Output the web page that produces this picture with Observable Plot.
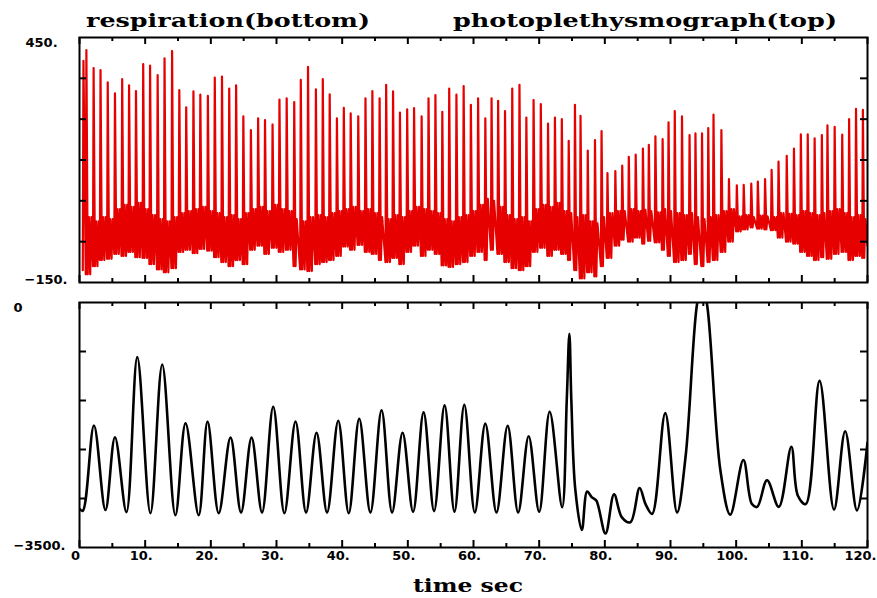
<!DOCTYPE html>
<html><head><meta charset="utf-8">
<script src="https://cdn.jsdelivr.net/npm/d3@7"></script>
<script src="https://cdn.jsdelivr.net/npm/@observablehq/plot@0.6"></script>
<style>
body{margin:0;background:#fff;}
#wrap{position:relative;width:877px;height:598px;overflow:hidden;background:#fff}
#top,#bot,#ttl{position:absolute;left:0}
#top{top:0}
#bot{top:290px}
#ttl{top:0;pointer-events:none}
#ttl text{font-family:"DejaVu Serif",serif;font-size:19px;font-weight:bold;fill:#000}
</style></head><body>
<div id="wrap">
  <div id="top"></div>
  <div id="bot"></div>
  <svg id="ttl" width="877" height="598">
    <text x="86" y="27" textLength="284" lengthAdjust="spacingAndGlyphs">respiration(bottom)</text>
    <text x="453" y="27" textLength="384" lengthAdjust="spacingAndGlyphs">photoplethysmograph(top)</text>
    <text x="413" y="592" textLength="110" lengthAdjust="spacingAndGlyphs">time sec</text>
  </svg>
</div>
<script>
// ---------- data: photoplethysmograph (top, red) ----------
const beatT = [0.6,1.05,2.15,3.2,4.3,5.4,6.5,7.55,8.6,9.7,
  10.75,11.9,12.95,14.1,15.2,16.25,17.35,18.4,19.55,20.6,
  21.7,22.8,23.85,24.95,26.1,27.2,28.25,29.4,30.45,31.55,
  32.7,33.7,34.8,36.0,37.05,38.1,39.2,40.25,41.3,42.45,
  43.55,44.6,45.7,46.7,47.75,48.8,49.9,50.95,52.1,53.15,
  54.2,55.25,56.3,57.4,58.5,59.6,60.7,61.8,62.75,63.75,
  64.8,65.9,67.0,68.05,69.15,70.25,71.35,72.4,73.45,74.5,
  75.45,76.3,77.4,78.5,79.5,80.4,81.6,82.65,83.65,84.7,
  85.8,86.7,87.7,88.8,89.7,90.65,91.75,92.9,93.8,94.8,
  95.75,96.55,97.75,98.9,100.1,101.15,102.3,103.3,104.4,105.4,
  106.45,107.7,108.8,109.85,110.9,111.95,113.05,113.9,115.0,116.15,
  117.2,118.25,119.3];
const beatPeak = [393,419,375,370,340,313,348,333,319,385,
  381,358,399,417,321,279,318,310,307,352,
  354,325,333,257,223,252,248,237,298,301,
  292,346,378,323,348,311,252,278,264,257,
  301,319,301,334,318,266,274,277,257,301,
  309,268,325,310,331,285,301,252,301,295,
  270,325,334,254,297,287,239,254,250,197,
  285,258,173,199,221,118,123,136,158,163,
  178,187,208,201,242,270,257,211,215,215,
  228,261,223,103,88,89,92,97,103,126,
  146,160,178,213,213,203,211,235,231,212,
  250,275,273];
const beatFoot = [-120,-130,-110,-95,-92,-80,-85,-75,-88,-90,
  -105,-118,-125,-115,-75,-70,-78,-68,-72,-88,
  -100,-110,-95,-105,-70,-60,-80,-65,-75,-70,
  -110,-118,-122,-105,-100,-95,-85,-62,-70,-58,
  -75,-80,-95,-100,-90,-105,-75,-60,-85,-70,
  -80,-108,-112,-105,-100,-85,-75,-95,-70,-80,
  -100,-115,-120,-110,-75,-65,-85,-70,-80,-95,
  -120,-140,-125,-135,-110,-90,-60,-45,-50,-40,
  -55,-48,-52,-70,-85,-100,-95,-80,-105,-110,
  -100,-95,-75,-50,-25,-20,-15,-18,-20,-22,
  -40,-50,-55,-75,-85,-95,-88,-92,-80,-75,
  -95,-85,-90];
const beatNotch = [20,10,0,10,5,30,40,35,45,30,
  15,5,0,10,20,25,30,35,25,20,
  10,15,5,20,30,35,25,40,30,25,
  5,0,10,15,10,20,25,30,35,25,
  30,20,10,5,15,10,25,35,30,25,
  20,5,0,10,15,25,40,55,50,35,
  15,5,10,0,30,40,35,45,25,20,
  10,15,0,-5,10,20,25,25,30,25,
  28,25,22,30,25,20,15,20,10,5,
  10,15,25,30,12,15,10,14,12,10,
  20,18,15,25,20,15,20,25,30,20,
  10,15,5];

// ---------- data: respiration (bottom, black) ----------
const respT = [0,0.5,2.2,3.95,5.4,7.15,8.8,10.8,12.6,14.6,
  16.15,18.15,19.5,21.2,23.0,24.6,26.2,27.8,29.5,31.2,
  32.9,34.5,36.1,37.7,39.4,41.0,42.6,44.3,46.0,47.6,
  49.2,50.8,52.4,54.0,55.6,57.1,58.6,60.2,61.8,63.5,
  65.2,66.8,68.4,70.0,71.6,73.5,74.2,74.6,74.9,75.5,
  76.5,77.3,78.0,78.7,80.1,81.4,82.6,83.9,85.3,86.2,
  87.2,89.2,91.0,92.3,94.0,94.8,95.6,97.6,99.1,101.1,
  102.4,103.2,104.7,106.5,108.4,109.4,110.6,112.7,114.9,116.6,
  118.4,120];
const respV = [-2950,-2975,-1757,-2965,-1924,-2995,-781,-3010,-886,-3040,
  -1724,-3040,-1700,-3010,-1930,-3000,-1930,-3000,-1490,-3010,
  -1700,-3000,-1860,-3000,-1690,-3010,-1660,-3000,-1540,-3000,
  -1860,-2990,-1570,-2980,-1470,-2990,-1460,-3000,-1730,-3000,
  -1760,-3000,-1910,-2990,-1560,-2925,-1400,-447,-1400,-2670,
  -3250,-2700,-2780,-2830,-3300,-2740,-3070,-3140,-2650,-2880,
  -3020,-1580,-3000,-2200,-50,300,-50,-2400,-3030,-2250,
  -2880,-2920,-2540,-2920,-2060,-2760,-2880,-1120,-2960,-1840,
  -2970,-2000];

// ---------- axes ----------
const xMajor = [0,10,20,30,40,50,60,70,80,90,100,110,120];
const xMinor = [5,15,25,35,45,55,65,75,85,95,105,115];
const xLabels = ["0","10.","20.","30.","40.","50.","60.","70.","80.","90.","100.","110.","120."];
const yTicksTop = [350,250,150,50,-50];
const yTicksBot = [-700,-1400,-2100,-2800];
const yDomainTop = [-150,450];
const yDomainBot = [-3500,0];
const yLabelsTop = ["450.","\u2212150."];
const yLabelsBot = ["0","\u22123500."];

// build the ppg polyline from the read beat values
const ppg = [];
beatT.forEach((t,i)=>{
  ppg.push({t: t-0.1, v: beatFoot[i]});
  ppg.push({t, v: beatPeak[i]});
  const next = i+1 < beatT.length ? beatT[i+1] : 120.1;
  if (next - t > 0.7) {
    ppg.push({t: t+0.2, v: beatFoot[i]});
    ppg.push({t: t+0.38, v: beatNotch[i]});
  }
  if (next - t > 1.0) {
    ppg.push({t: t+0.58, v: beatFoot[i]});
    ppg.push({t: t+0.76, v: beatNotch[i]});
  }
});
ppg.push({t:120, v:-60});
const resp = respT.map((t,i)=>({t, v: respV[i]}));

const W = 877, ML = 79, MR = 10, FH = 245, FW = W-ML-MR;
const font = {fontFamily:"DejaVu Sans, sans-serif", fontWeight:"bold", fontSize:13, fill:"#000"};

function frameTicks(yTicks){
  const s = {stroke:"#000", strokeWidth:2};
  return [
    Plot.tickX(xMajor, {x:d=>d, insetTop:FH-7, ...s}),
    Plot.tickX(xMajor, {x:d=>d, insetBottom:FH-7, ...s}),
    Plot.tickX(xMinor, {x:d=>d, insetTop:FH-4, ...s}),
    Plot.tickX(xMinor, {x:d=>d, insetBottom:FH-4, ...s}),
    Plot.tickY(yTicks, {y:d=>d, insetRight:FW-7, ...s}),
    Plot.tickY(yTicks, {y:d=>d, insetLeft:FW-7, ...s})
  ];
}

const topPlot = Plot.plot({
  width: W, height: 290, marginLeft: ML, marginRight: MR, marginTop: 37, marginBottom: 8,
  x: {domain:[0,120], axis:null},
  y: {domain: yDomainTop, axis:null},
  style: {background:"transparent"},
  marks: [
    Plot.ruleY([0], {stroke:"#8a8a8a", strokeWidth:0.8, strokeDasharray:"1.2,2"}),
    Plot.line(ppg, {x:"t", y:"v", stroke:"#e60000", strokeWidth:2.2, clip:true}),
    ...frameTicks(yTicksTop),
    Plot.frame({stroke:"#000", strokeWidth:2}),
    Plot.text([yDomainTop[1]], {y:d=>d, text:[yLabelsTop[0]], frameAnchor:"left", textAnchor:"start", dx:-54, dy:5, ...font}),
    Plot.text([yDomainTop[0]], {y:d=>d, text:[yLabelsTop[1]], frameAnchor:"left", textAnchor:"start", dx:-55, dy:-3, ...font})
  ]
});

const botPlot = Plot.plot({
  width: W, height: 308, marginLeft: ML, marginRight: MR, marginTop: 12, marginBottom: 51,
  x: {domain:[0,120], axis:null},
  y: {domain: yDomainBot, axis:null},
  style: {background:"transparent"},
  marks: [
    Plot.line(resp, {x:"t", y:"v", stroke:"#000", strokeWidth:2.6, curve:"catmull-rom", clip:true}),
    ...frameTicks(yTicksBot),
    Plot.frame({stroke:"#000", strokeWidth:2}),
    Plot.text(xMajor.slice(0,-1), {x:d=>d, text:xLabels.slice(0,-1), frameAnchor:"bottom", dy:12, dx:-4, textAnchor:"middle", ...font}),
    Plot.text(xMajor.slice(-1), {x:d=>d, text:xLabels.slice(-1), frameAnchor:"bottom", dy:12, dx:9, textAnchor:"end", ...font}),
    Plot.text([yDomainBot[1]], {y:d=>d, text:[yLabelsBot[0]], frameAnchor:"left", textAnchor:"start", dx:-66, dy:5, ...font}),
    Plot.text([yDomainBot[0]], {y:d=>d, text:[yLabelsBot[1]], frameAnchor:"left", textAnchor:"start", dx:-66, dy:-2, ...font})
  ]
});

document.getElementById("top").appendChild(topPlot);
document.getElementById("bot").appendChild(botPlot);
</script>
</body></html>
